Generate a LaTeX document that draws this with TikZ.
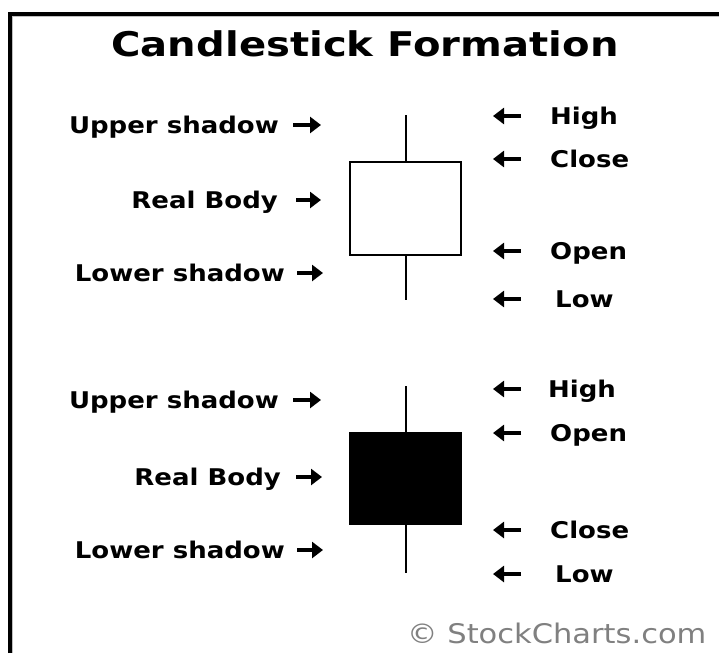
\documentclass[tikz,border=0pt]{standalone}
\usepackage{fontspec}
\usetikzlibrary{arrows.meta}
\newfontfamily\titlefont[FakeStretch=1.18]{DejaVu Sans Bold}
\newfontfamily\labfont[FakeStretch=1.13]{DejaVu Sans Bold}
\newfontfamily\notefont[FakeStretch=1.13]{DejaVu Sans}
\tikzset{
  lbl/.style={font={\labfont\fontsize{23pt}{23pt}\selectfont}, inner sep=0pt, text height=17pt, text depth=0pt},
  arr/.style={line width=4.5pt, -{Triangle[length=11pt,width=16pt]}},
  wick/.style={line width=2pt},
  body/.style={line width=2pt}
}
\begin{document}
\begin{tikzpicture}[x=1pt,y=-1pt]
\useasboundingbox (0,0) rectangle (719,653);
% frame
\draw[gray!50, line width=1pt] (12.5,653) -- (12.5,16) -- (719,16);
\draw[line width=4pt] (9.5,653) -- (9.5,13.5) -- (719,13.5);
\node[inner sep=0pt, text height=25pt, text depth=0pt, font={\titlefont\fontsize{34pt}{34pt}\selectfont}] (title) at (365,44) {Candlestick Formation};

% white candle
\draw[wick] (406,115) -- (406,162);
\draw[wick] (406,255) -- (406,300);
\draw[body, fill=white] (350,162) rectangle (461,255);
\node[lbl, anchor=east] (ush1) at (279,125) {Upper shadow};
\node[lbl, anchor=east] (rb1) at (278,200) {Real Body};
\node[lbl, anchor=east] (lsh1) at (285,273) {Lower shadow};
\draw[arr] ([xshift=14pt]ush1.east) -- ++(28,0);
\draw[arr] ([xshift=18pt]rb1.east) -- ++(25,0);
\draw[arr] ([xshift=12pt]lsh1.east) -- ++(26,0);
\node[lbl, anchor=west] (hi1) at (550,116) {High};
\node[lbl, anchor=west] (cl1) at (550,159) {Close};
\node[lbl, anchor=west] (op1) at (550,251) {Open};
\node[lbl, anchor=west] (lo1) at (555,299) {Low};
\draw[arr] ([xshift=-29pt]hi1.west) -- ++(-28,0);
\draw[arr] ([xshift=-29pt]cl1.west) -- ++(-28,0);
\draw[arr] ([xshift=-29pt]op1.west) -- ++(-28,0);
\draw[arr] ([xshift=-34pt]lo1.west) -- ++(-28,0);

% black candle
\draw[wick] (406,386) -- (406,433);
\draw[wick] (406,524) -- (406,573);
\draw[body, fill=black] (350,433) rectangle (461,524);
\node[lbl, anchor=east] (ush2) at (279,400) {Upper shadow};
\node[lbl, anchor=east] (rb2) at (281,477) {Real Body};
\node[lbl, anchor=east] (lsh2) at (285,550) {Lower shadow};
\draw[arr] ([xshift=14pt]ush2.east) -- ++(28,0);
\draw[arr] ([xshift=15pt]rb2.east) -- ++(26,0);
\draw[arr] ([xshift=12pt]lsh2.east) -- ++(26,0);
\node[lbl, anchor=west] (hi2) at (548,389) {High};
\node[lbl, anchor=west] (op2) at (550,433) {Open};
\node[lbl, anchor=west] (cl2) at (550,530) {Close};
\node[lbl, anchor=west] (lo2) at (555,574) {Low};
\draw[arr] ([xshift=-27pt]hi2.west) -- ++(-28,0);
\draw[arr] ([xshift=-29pt]op2.west) -- ++(-28,0);
\draw[arr] ([xshift=-29pt]cl2.west) -- ++(-28,0);
\draw[arr] ([xshift=-34pt]lo2.west) -- ++(-28,0);

\node[anchor=west, inner sep=0pt, text height=20pt, text depth=0pt, text=black!50, font={\notefont\fontsize{27pt}{27pt}\selectfont}] (copy) at (407,633) {© StockCharts.com};
\end{tikzpicture}
\end{document}
